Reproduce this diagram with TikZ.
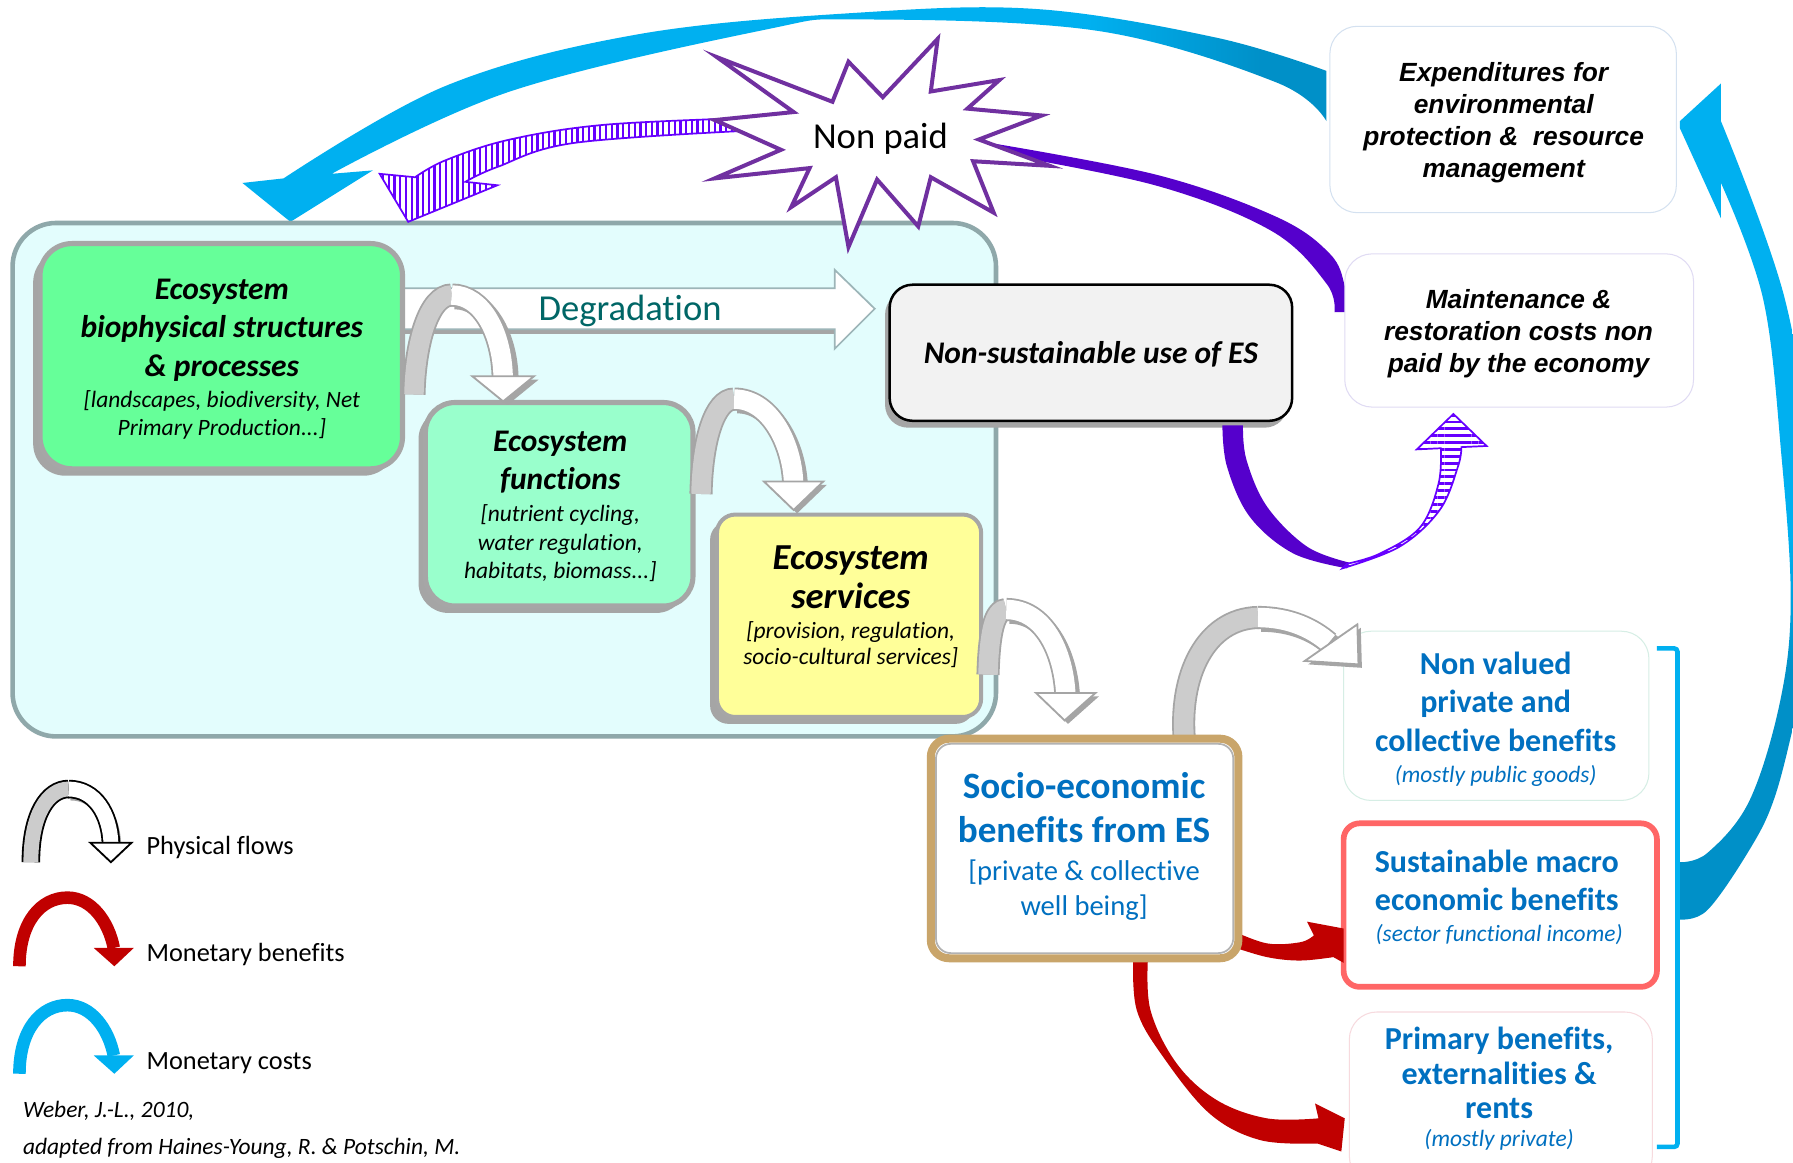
\documentclass[tikz,border=0pt]{standalone}
\usepackage{fontspec}
\setmainfont{Carlito}[Ligatures=NoCommon]
\newfontfamily\arialf{Liberation Sans}
\usetikzlibrary{patterns.meta}
\newcommand\myfs[2]{\fontsize{#1}{#2}\selectfont}
\newcommand\ml[1]{\begin{tabular}[t]{@{}c@{}}#1\end{tabular}}
\definecolor{bigfill}{RGB}{227,253,253}
\definecolor{bigedge}{RGB}{143,168,170}
\definecolor{gA}{RGB}{102,255,153}
\definecolor{gB}{RGB}{153,255,204}
\definecolor{yel}{RGB}{255,255,153}
\definecolor{boxedge}{RGB}{166,166,166}
\definecolor{nsfill}{RGB}{242,242,242}
\definecolor{esblue}{RGB}{0,112,192}
\definecolor{tealtxt}{RGB}{0,102,102}
\definecolor{starpurple}{RGB}{112,48,160}
\definecolor{solpurple}{RGB}{85,0,204}
\definecolor{strpurple}{RGB}{102,0,255}
\definecolor{redarr}{RGB}{192,0,0}
\definecolor{cyanA}{RGB}{0,176,240}
\definecolor{cyanD}{RGB}{0,144,200}
\definecolor{tanedge}{RGB}{201,165,106}
\definecolor{pinkedge}{RGB}{255,102,102}
\definecolor{shadowgray}{RGB}{165,165,165}
\definecolor{bandgray}{RGB}{204,204,204}
\definecolor{bandedge}{RGB}{165,165,165}
\definecolor{degedge}{RGB}{157,181,184}
\definecolor{edgeexp}{RGB}{212,225,240}
\definecolor{edgemnt}{RGB}{224,219,243}
\definecolor{edgenv}{RGB}{214,238,229}
\definecolor{edgepr}{RGB}{247,218,222}
\pgfdeclarehorizontalshading{cyanshB}{100bp}{color(0bp)=(cyanA); color(64bp)=(cyanA); color(72bp)=(cyanD); color(100bp)=(cyanD)}
\pgfdeclareverticalshading{cyanshA}{100bp}{color(0bp)=(cyanD); color(40bp)=(cyanD); color(48bp)=(cyanA); color(100bp)=(cyanA)}
\tikzset{
  lbl/.style={anchor=base, inner sep=0pt},
  ttl/.style={lbl, font=\myfs{27.5}{33.5}\bfseries\itshape},
  subt/.style={lbl, font=\myfs{20.5}{24.5}\itshape},
  bluettl/.style={lbl, text=esblue, font=\myfs{28}{33.5}\bfseries},
  bluesub/.style={lbl, text=esblue, font=\myfs{20.5}{24}\itshape},
  arialt/.style={lbl, font=\arialf\myfs{23}{28}\bfseries\itshape},
  ecobox/.style={draw=boxedge, line width=4.5pt, rounded corners=28pt, inner sep=0pt},
  softbox/.style={draw=#1, line width=0.9pt, rounded corners=24pt, fill=white, inner sep=0pt},
  backband/.style={draw=bandedge, line width=1.6pt, double=bandgray, double distance=17pt},
  frontband/.style={draw=bandedge, line width=1.6pt, double=white, double distance=17pt},
  arcshadow/.style={draw=shadowgray, line width=19pt},
  fhead/.style={draw=bandedge, line width=1.6pt, fill=white, line join=miter},
  legback/.style={draw=black, line width=1.6pt, double=bandgray, double distance=13pt},
  legfront/.style={draw=black, line width=1.6pt, double=white, double distance=13pt},
  leghead/.style={draw=black, line width=1.6pt, fill=white, line join=miter},
  legtxt/.style={anchor=base west, inner sep=0pt, font=\myfs{23}{28}},
  cite/.style={anchor=base west, inner sep=0pt, font=\myfs{20.5}{25}\itshape},
}
\begin{document}
\begin{tikzpicture}[x=1pt,y=-1pt]
\useasboundingbox (0,0) rectangle (1568,1017);
\clip (0,0) rectangle (1568,1017);
\fill[white] (0,0) rectangle (1568,1017);

% ---- big cyan arrow over the top (monetary costs)
\shade[shading=cyanshB] plot[smooth, tension=0.6] coordinates {(1160,62) (1064,33) (908,8) (752,11) (558,30) (390,75) (248,156)}
  -- (212,160) -- (254,194) -- (326,149)
  -- plot[smooth, tension=0.6] coordinates {(290,152) (446,80) (669,26) (752,17) (960,27) (1116,72) (1160,106)} -- cycle;

% ---- big ecosystem box
\node[draw=bigedge, fill=bigfill, line width=4pt, rounded corners=38pt, minimum width=860pt, minimum height=449pt, inner sep=0pt] (big) at (441,419.5) {};

% ---- purple striped arrow (non paid -> ecosystem)
\draw[strpurple, line width=1.5pt, pattern={Lines[angle=90,distance=5pt,line width=2pt]}, pattern color=strpurple]
  plot[smooth, tension=0.6] coordinates {(660,103) (530,109) (446,122) (390,140) (363,155)}
  -- (332,152) -- (357,194) -- (435,162) -- (407,159)
  -- plot[smooth, tension=0.6] coordinates {(407,159) (435,146) (502,125) (660,114)} -- cycle;

% ---- purple solid arrow (non paid -> maintenance)
\fill[solpurple] plot[smooth, tension=0.6] coordinates {(860,124) (1012,153) (1117,190) (1163,222) (1176,250) (1178,273)}
  -- plot[smooth, tension=0.6] coordinates {(1167,273) (1160,248) (1112,202) (1010,162) (860,132)} -- cycle;

% ---- Non paid star
\draw[starpurple, line width=3.5pt, fill=white, line join=miter] (627,50) -- (728,89) -- (742,54) -- (772,85) -- (820,34) -- (814,80) -- (874,70) -- (846,95) -- (911,101) -- (856,122) -- (918,145) -- (851,141) -- (869,186) -- (814,155) -- (803,198) -- (767,157) -- (742,216) -- (731,155) -- (692,181) -- (708,147) -- (625,156) -- (683,131) -- (625,105) -- (694,98) -- cycle;
\node[lbl, font=\myfs{32}{38}] (np) at (770,130) {Non paid};

% ---- Degradation arrow
\fill[shadowgray] (352,287) rectangle (729,292);
\draw[draw=degedge, line width=1.5pt, fill=white, line join=miter] (352,252) -- (730,252) -- (730,236) -- (765,270) -- (730,305) -- (730,288) -- (352,288) -- cycle;
\node[lbl, text=tealtxt, font=\myfs{32}{38}] (deg) at (551,280) {Degradation};

% ---- shadows of the boxes
\fill[shadowgray, rounded corners=28pt] (29,219) rectangle (346,416);
\fill[shadowgray, rounded corners=26pt] (366,358) rectangle (600,536);
\fill[shadowgray, rounded corners=16pt] (621,456) rectangle (852,633);
\fill[shadowgray, rounded corners=20pt] (774,255) rectangle (1126,374);

% ---- ecosystem boxes
\node[ecobox, fill=gA, minimum width=317pt, minimum height=197pt] (b1) at (193.5,311.5) {};
\node[ecobox, fill=gB, rounded corners=26pt, minimum width=234pt, minimum height=178pt] (b2) at (489,441) {};
\node[ecobox, fill=yel, line width=3.5pt, rounded corners=16pt, minimum width=231pt, minimum height=177pt] (b3) at (742.5,538.5) {};

\node[ttl] (b1t) at (194,262) {\ml{Ecosystem\\biophysical structures\\\& processes}};
\node[subt] (b1s) at (194,356) {\ml{[landscapes, biodiversity, Net\\Primary Production...]}};
\node[ttl, font=\myfs{27.5}{33}\bfseries\itshape] (b2t) at (490,395) {\ml{Ecosystem\\functions}};
\node[subt, font=\myfs{20.5}{25}\itshape] (b2s) at (490,456) {\ml{[nutrient cycling,\\water regulation,\\habitats, biomass...]}};
\node[ttl, font=\myfs{32}{34}\bfseries\itshape] (b3t) at (744,498) {\ml{Ecosystem\\services}};
\node[subt, font=\myfs{20.5}{23}\itshape] (b3s) at (744,558) {\ml{[provision, regulation,\\socio-cultural services]}};

% ---- physical flow arcs
% arc 1
\draw[arcshadow] (398,261) .. controls (425,261) and (443,294) .. (444,330);
\fill[shadowgray] (417,332) -- (471,332) -- (444,354) -- cycle;
\draw[backband] (362,345) .. controls (363,300) and (375,258) .. (395,258);
\draw[frontband] (395,258) .. controls (422,258) and (439,292) .. (440,329);
\draw[fhead] (413,329) -- (467,329) -- (440,351) -- cycle;
% arc 2
\draw[arcshadow] (645,352) .. controls (675,352) and (695,388) .. (697,424);
\fill[shadowgray] (672,424) -- (723,424) -- (697,449) -- cycle;
\draw[backband] (613,432) .. controls (614,385) and (625,349) .. (642,349);
\draw[frontband] (642,349) .. controls (672,349) and (692,385) .. (694,421);
\draw[fhead] (668,421) -- (720,421) -- (694,446) -- cycle;
% arc 3
\draw[arcshadow] (883,536) .. controls (916,536) and (933,573) .. (935,609);
\fill[shadowgray] (910,609) -- (961,609) -- (934,633) -- cycle;
\draw[backband] (864,590) .. controls (865,555) and (869,533) .. (880,533);
\draw[frontband] (880,533) .. controls (913,533) and (930,570) .. (932,606);
\draw[fhead] (906,606) -- (958,606) -- (931,630) -- cycle;

% ---- Non-sustainable box
\node[draw=black, line width=2.2pt, fill=nsfill, rounded corners=20pt, minimum width=352pt, minimum height=119pt, inner sep=0pt] (ns) at (954,308.5) {};
\node[ttl] (nst) at (954,318) {Non-sustainable use of ES};

% ---- purple U arrow (non-sustainable -> maintenance)
\fill[solpurple] plot[smooth, tension=0.6] coordinates {(1069,372) (1073,408) (1093,452) (1131,484) (1178,497)}
  -- plot[smooth, tension=0.6] coordinates {(1180,492) (1143,478) (1108,443) (1090,402) (1087,372)} -- cycle;
\draw[strpurple, line width=1.5pt, line join=miter, pattern={Lines[angle=0,distance=6pt,line width=2.5pt]}, pattern color=strpurple]
  plot[smooth, tension=0.6] coordinates {(1174,497) (1224,478) (1259,446) (1275,408) (1278,391)}
  -- (1300,390) -- (1271,362) -- (1239,393) -- (1260,392)
  -- plot[smooth, tension=0.6] coordinates {(1260,392) (1258,423) (1242,461) (1207,484) (1178,493)} -- cycle;

% ---- expenditure & maintenance boxes
\node[softbox=edgeexp, minimum width=303pt, minimum height=163pt] (exp) at (1314.5,104.5) {};
\node[arialt] (expt) at (1315,71) {\ml{Expenditures for\\environmental\\protection \& \ resource\\management}};
\node[softbox=edgemnt, minimum width=305pt, minimum height=134pt] (mnt) at (1328.5,289) {};
\node[arialt] (mntt) at (1328,270) {\ml{Maintenance \&\\restoration costs non\\paid by the economy}};

% ---- cyan arrow from benefits to expenditures
\shade[shading=cyanshA] plot[smooth, tension=0.6] coordinates {(1468,754) (1493,746) (1530,700) (1557,612) (1566,525) (1558,400) (1542,262) (1505,160)}
  -- (1505,191) -- (1469,112) -- (1469,106) -- (1505,73)
  -- plot[smooth, tension=0.6] coordinates {(1505,106) (1561,262) (1584,420) (1584,560) (1568,636) (1551,700) (1530,743) (1493,796) (1468,804)} -- cycle;
\draw[cyanA, line width=4pt, rounded corners=3pt] (1449,567) -- (1467,567) -- (1467,1003) -- (1449,1003);

% ---- right benefit boxes
\node[softbox=edgenv, minimum width=267pt, minimum height=148pt] (nv) at (1308.5,626) {};
\node[bluettl] (nvt) at (1308,590) {\ml{Non valued\\private and\\collective benefits}};
\node[bluesub] (nvs) at (1308,684) {(mostly public goods)};
\node[draw=pinkedge, line width=5pt, fill=white, rounded corners=14pt, minimum width=274pt, minimum height=143pt, inner sep=0pt] (su) at (1312,791.5) {};
\node[bluettl] (sut) at (1309,763) {\ml{Sustainable macro\\economic benefits}};
\node[bluesub] (sus) at (1311,823) {(sector functional income)};
\node[softbox=edgepr, minimum width=265pt, minimum height=150pt] (pr) at (1312.5,960) {};
\node[bluettl, font=\myfs{28}{30}\bfseries] (prt) at (1311,918) {\ml{Primary benefits,\\externalities \&\\rents}};
\node[bluesub] (prs) at (1311,1003) {(mostly private)};

% ---- arc 4 (socio-economic -> non valued)
\draw[arcshadow] (1103,543) .. controls (1131,543) and (1151,553) .. (1165,565);
\draw[backband] (1036,650) .. controls (1030,590) and (1055,541) .. (1100,540);
\draw[frontband] (1100,540) .. controls (1128,540) and (1148,550) .. (1162,562);
\fill[shadowgray] (1190,549) -- (1191,584) -- (1144,581) -- cycle;
\draw[fhead] (1187,546) -- (1188,581) -- (1141,578) -- cycle;

% ---- red arrows
\fill[redarr] plot[smooth, tension=0.6] coordinates {(991,836) (994,883) (1017,924) (1058,974) (1102,997) (1152,1000)}
  -- (1173,1007) -- (1176,978) -- (1150,965)
  -- plot[smooth, tension=0.6] coordinates {(1153,978) (1108,978) (1064,962) (1029,930) (1006,883) (1004,836)} -- cycle;
\fill[redarr] plot[smooth, tension=0.6] coordinates {(1078,814) (1108,825) (1137,824) (1149,818)}
  -- (1143,806) -- (1175,812) -- (1175,842)
  -- plot[smooth, tension=0.6] coordinates {(1166,837) (1137,840) (1108,837) (1078,828)} -- cycle;

% ---- socio-economic box
\node[draw=tanedge, line width=7pt, fill=white, rounded corners=16pt, minimum width=269pt, minimum height=192pt, inner sep=0pt] (so) at (948.5,742) {};
\draw[draw=gray!60, line width=1.5pt, rounded corners=13pt] (818.5,650.5) rectangle (1078.5,833.5);
\node[lbl, text=esblue, font=\myfs{32.5}{39}\bfseries] (sot) at (948,698) {\ml{Socio-economic\\benefits from ES}};
\node[lbl, text=esblue, font=\myfs{25}{31}] (sos) at (948,770) {\ml{[private \& collective\\well being]}};

% ---- legend
\draw[draw=shadowgray, line width=14pt] (62,693) .. controls (85,693) and (98,715) .. (99,738);
\draw[legback] (27,754) .. controls (27,712) and (42,690) .. (60,690);
\draw[legfront] (60,690) .. controls (83,690) and (96,712) .. (97,737);
\draw[leghead] (79,737) -- (115,737) -- (97,754) -- cycle;
\node[legtxt] (l1) at (128,747) {Physical flows};

\draw[redarr, line width=11pt] (17,845) .. controls (17,806) and (36,785) .. (59,785) .. controls (80,785) and (95,806) .. (99.5,829);
\fill[redarr] (82,829) -- (117,829) -- (100,845) -- cycle;
\node[legtxt] (l2) at (128,841) {Monetary benefits};

\draw[cyanA, line width=11pt] (17,939) .. controls (17,900) and (36,879) .. (59,879) .. controls (80,879) and (95,900) .. (99.5,923);
\fill[cyanA] (82,923) -- (117,923) -- (100,939) -- cycle;
\node[legtxt] (l3) at (128,935) {Monetary costs};

\node[cite] (c1) at (20,977) {Weber, J.-L., 2010,};
\node[cite] (c2) at (20,1010) {adapted from Haines-Young, R. \& Potschin, M.};
\end{tikzpicture}
\end{document}
